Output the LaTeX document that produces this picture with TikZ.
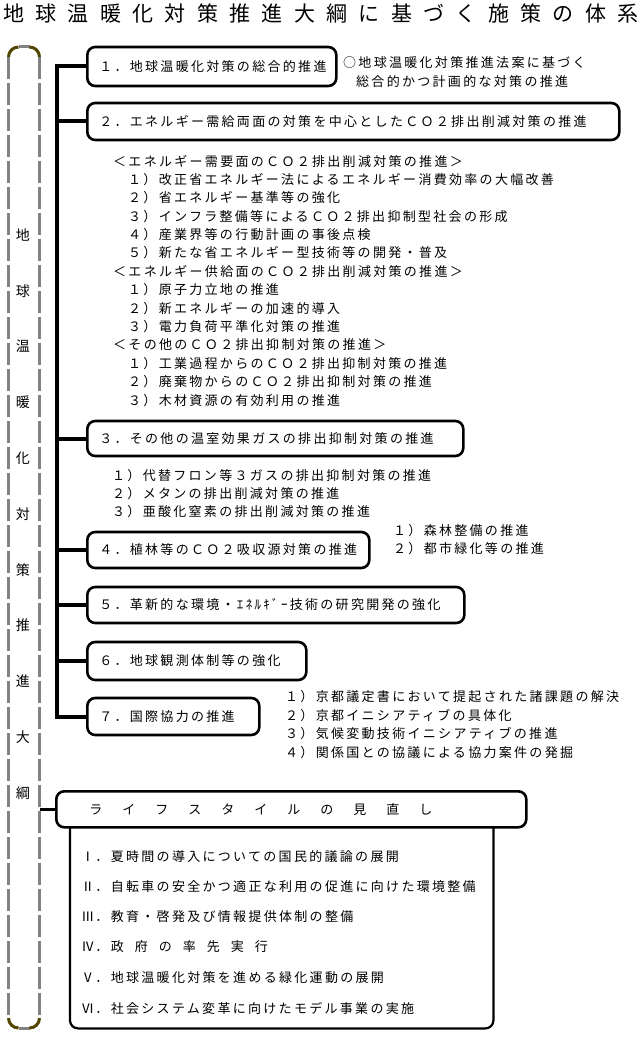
\documentclass[tikz,border=0pt]{standalone}
\usepackage{fontspec}
\newfontfamily\jp[LetterSpace=17.7]{Noto Sans CJK JP}
\newfontfamily\jptitle[LetterSpace=54]{Noto Sans CJK JP}
\newfontfamily\jpplain{Noto Sans CJK JP}
\definecolor{olivecorner}{RGB}{80,70,0}
\definecolor{pillargray}{RGB}{130,130,130}
\newcommand\jpgap{\kern11pt}
\newcommand\hdgap{\kern20pt}
\newcommand\rnum[1]{\makebox[15.3pt][c]{#1}}
\begin{document}
\begin{tikzpicture}[x=1pt,y=-1pt,
  t/.style={anchor=west, inner sep=0pt, font=\jp\fontsize{13}{15}\selectfont},
  vt/.style={inner sep=0pt, font=\jpplain\fontsize{14}{15}\selectfont},
  bx/.style={draw, line width=2.6pt, rounded corners=8pt, anchor=west, inner ysep=0pt, inner xsep=12pt, align=left, font=\jp\fontsize{13}{15}\selectfont},
  conn/.style={line width=4pt, line join=miter, line cap=rect},
  pline/.style={pillargray, line width=3pt, dash pattern=on 22pt off 4pt},
  pcorner/.style={olivecorner, line width=3pt},
]
\useasboundingbox (0,0) rectangle (643,1040);

% title
\node[anchor=west, inner sep=0pt, font=\jptitle\fontsize{21}{21}\selectfont] (title) at (3,14) {地球温暖化対策推進大綱に基づく施策の体系};

% pillar
\node[minimum width=31pt, minimum height=981pt, anchor=north west, inner sep=0pt] (pil) at (8.5,47) {};
\draw[pline] (8.5,57) -- (8.5,1018);
\draw[pline] (39.5,57) -- (39.5,1018);
\draw[pillargray, line width=3pt] (18.5,47) -- (29.5,47);
\draw[pillargray, line width=3pt] (18.5,1028) -- (29.5,1028);
\draw[pcorner] (8.5,57) arc[start angle=180, end angle=270, radius=10];
\draw[pcorner] (29.5,47) arc[start angle=270, end angle=360, radius=10];
\draw[pcorner] (8.5,1018) arc[start angle=180, end angle=90, radius=10];
\draw[pcorner] (39.5,1018) arc[start angle=0, end angle=90, radius=10];
\foreach \c [count=\i from 0] in {地,球,温,暖,化,対,策,推,進,大,綱}
  \node[vt] (v\i) at (23,235+55.8*\i) {\c};

% main boxes
\node[bx, minimum width=249pt, minimum height=39pt, text width=225pt] (b1) at (86,66.5) {１．地球温暖化対策の総合的推進};
\node[bx, minimum width=532pt, minimum height=37pt, text width=508pt] (b2) at (86,121.5) {２．エネルギー需給両面の対策を中心としたＣＯ２排出削減対策の推進};
\node[bx, minimum width=376pt, minimum height=35pt, text width=352pt] (b3) at (86,438.5) {３．その他の温室効果ガスの排出抑制対策の推進};
\node[bx, minimum width=282pt, minimum height=36pt, text width=258pt] (b4) at (86,550) {４．植林等のＣＯ２吸収源対策の推進};
\node[bx, minimum width=377pt, minimum height=36pt, text width=353pt] (b5) at (86,605) {５．革新的な環境・ｴﾈﾙｷﾞｰ技術の研究開発の強化};
\node[bx, minimum width=219pt, minimum height=38pt, text width=195pt] (b6) at (86,661) {６．地球観測体制等の強化};
\node[bx, minimum width=172pt, minimum height=37pt, text width=148pt] (b7) at (86,716.5) {７．国際協力の推進};

% trunk and branches
\coordinate (tx) at (57,0);
\draw[conn] (b1.west) -- (b1.west -| tx) -- (b7.west -| tx) -- (b7.west);
\foreach \b in {b2,b3,b4,b5,b6}
  \draw[conn] (\b.west) -- (\b.west -| tx);

% notes of box 1
\node[t] (n1a) at (343,63) {○地球温暖化対策推進法案に基づく};
\node[t] (n1b) at (356,82) {総合的かつ計画的な対策の推進};

% block 2 list
\node[t] (l0) at (113,161) {＜エネルギー需要面のＣＯ２排出削減対策の推進＞};
\node[t] (l1) at (128,179.4) {１）改正省エネルギー法によるエネルギー消費効率の大幅改善};
\node[t] (l2) at (128,197.8) {２）省エネルギー基準等の強化};
\node[t] (l3) at (128,216.2) {３）インフラ整備等によるＣＯ２排出抑制型社会の形成};
\node[t] (l4) at (128,234.6) {４）産業界等の行動計画の事後点検};
\node[t] (l5) at (128,253) {５）新たな省エネルギー型技術等の開発・普及};
\node[t] (l6) at (113,271.4) {＜エネルギー供給面のＣＯ２排出削減対策の推進＞};
\node[t] (l7) at (128,289.8) {１）原子力立地の推進};
\node[t] (l8) at (128,308.2) {２）新エネルギーの加速的導入};
\node[t] (l9) at (128,326.6) {３）電力負荷平準化対策の推進};
\node[t] (l10) at (113,345) {＜その他のＣＯ２排出抑制対策の推進＞};
\node[t] (l11) at (128,363.4) {１）工業過程からのＣＯ２排出抑制対策の推進};
\node[t] (l12) at (128,381.8) {２）廃棄物からのＣＯ２排出抑制対策の推進};
\node[t] (l13) at (128,400.2) {３）木材資源の有効利用の推進};

% block 3 list
\node[t] (m1) at (112,476) {１）代替フロン等３ガスの排出抑制対策の推進};
\node[t] (m2) at (112,494) {２）メタンの排出削減対策の推進};
\node[t] (m3) at (112,512) {３）亜酸化窒素の排出削減対策の推進};

% box 4 list
\node[t] (p1) at (393,531) {１）森林整備の推進};
\node[t] (p2) at (393,549) {２）都市緑化等の推進};

% box 7 list
\node[t] (q1) at (285,697) {１）京都議定書において提起された諸課題の解決};
\node[t] (q2) at (285,715.4) {２）京都イニシアティブの具体化};
\node[t] (q3) at (285,733.8) {３）気候変動技術イニシアティブの推進};
\node[t] (q4) at (285,752.2) {４）関係国との協議による協力案件の発掘};

% lifestyle
\node[minimum width=423pt, minimum height=202pt, anchor=north west, inner sep=0pt] (lb) at (70,826) {};
\draw[line width=2.2pt, rounded corners=8pt] (lb.north west) -- (lb.south west) -- (lb.south east) -- (lb.north east);
\node[bx, fill=white, anchor=north west, minimum width=470pt, minimum height=36pt, inner xsep=33pt, text width=404pt] (lh) at (55,790)
  {ラ\hdgap イ\hdgap フ\hdgap ス\hdgap タ\hdgap イ\hdgap ル\hdgap の\hdgap 見\hdgap 直\hdgap し};
\draw[line width=3.5pt] (pil.east |- lh.west) -- (lh.west);

\node[t] (r1) at (80,857) {\rnum{Ⅰ}．夏時間の導入についての国民的議論の展開};
\node[t] (r2) at (80,887) {\rnum{Ⅱ}．自転車の安全かつ適正な利用の促進に向けた環境整備};
\node[t] (r3) at (80,917) {\rnum{Ⅲ}．教育・啓発及び情報提供体制の整備};
\node[t] (r4) at (80,947) {\rnum{Ⅳ}．政\jpgap 府\jpgap の\jpgap 率\jpgap 先\jpgap 実\jpgap 行};
\node[t] (r5) at (80,978) {\rnum{Ⅴ}．地球温暖化対策を進める緑化運動の展開};
\node[t] (r6) at (80,1008) {\rnum{Ⅵ}．社会システム変革に向けたモデル事業の実施};
\end{tikzpicture}
\end{document}
